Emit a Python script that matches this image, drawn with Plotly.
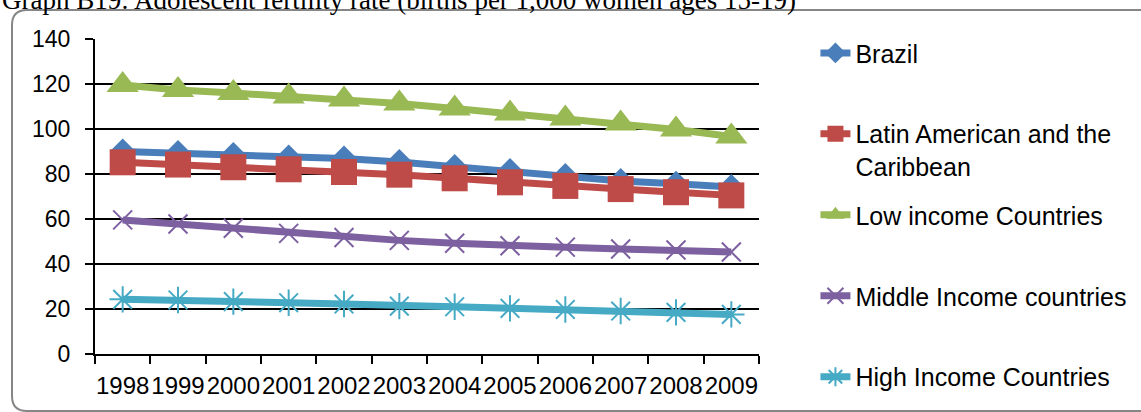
import plotly.graph_objects as go

# Adolescent fertility rate (births per 1,000 women ages 15-19)
years = ["1998", "1999", "2000", "2001", "2002", "2003",
         "2004", "2005", "2006", "2007", "2008", "2009"]

brazil = [90.0, 89.3, 88.4, 87.3, 86.9, 85.3, 83.1, 81.3, 79.1, 76.9, 75.7, 74.2]
latin_america = [85.2, 84.2, 83.0, 82.1, 80.9, 79.7, 78.1, 76.3, 74.7, 73.3, 71.9, 70.5]
low_income = [119.6, 117.3, 116.0, 114.4, 113.1, 111.3, 109.1, 106.9, 104.7, 102.4, 99.8, 96.7]
middle_income = [59.6, 57.8, 55.9, 53.6, 51.8, 50.5, 49.2, 48.1, 47.5, 46.7, 46.2, 45.3]
high_income = [24.3, 24.0, 23.3, 22.8, 22.2, 21.3, 21.0, 20.3, 19.8, 19.1, 18.5, 17.6]

y_ticks = [0, 20, 40, 60, 80, 100, 120, 140]

FONT = "Liberation Sans"

series = [
    ("Brazil", brazil, "#4A7EBB", dict(symbol="diamond", size=20)),
    ("Latin American and the<br>Caribbean", latin_america, "#BE4B48",
     dict(symbol="square", size=26)),
    ("Low income Countries", low_income, "#98B954",
     dict(symbol="triangle-up", size=28)),
    ("Middle Income countries", middle_income, "#7D60A0",
     dict(symbol="x-thin", size=19, line=dict(width=2, color="#7D60A0"))),
    ("High Income Countries", high_income, "#46AAC5",
     dict(symbol="asterisk", size=22, line=dict(width=2, color="#46AAC5"))),
]

# vertical centre (paper units) of each legend entry
legend_y = [0.955, 0.648, 0.441, 0.184, -0.073]

fig = go.Figure()
for i, (name, vals, color, marker) in enumerate(series):
    legend_id = "legend" if i == 0 else f"legend{i + 1}"
    fig.add_trace(go.Scatter(
        x=years, y=vals, name=name, mode="lines+markers",
        line=dict(color=color, width=7),
        marker=dict(color=color, **marker),
        legend=legend_id,
    ))
    fig.layout[legend_id] = dict(
        x=1.085, y=legend_y[i], xanchor="left", yanchor="middle",
        bgcolor="rgba(0,0,0,0)", valign="top",
        font=dict(family=FONT, size=25, color="#000000"),
    )

# rounded frame around the chart, in paper units (plot area is 664 x 315 px);
# its right-hand side runs past the page edge
PW, PH = 664.0, 315.0
fl, fr, ft, fb = -83 / PW, 1100 / PW, 344 / PH, -57 / PH
rx, ry = 15 / PW, 15 / PH
frame = (f"M {fl + rx},{ft} L {fr - rx},{ft} Q {fr},{ft} {fr},{ft - ry} "
         f"L {fr},{fb + ry} Q {fr},{fb} {fr - rx},{fb} L {fl + rx},{fb} "
         f"Q {fl},{fb} {fl},{fb + ry} L {fl},{ft - ry} Q {fl},{ft} {fl + rx},{ft} Z")
fig.add_shape(type="path", path=frame, xref="paper", yref="paper",
              line=dict(color="#868686", width=2), layer="below")

fig.add_annotation(
    text="Graph B19: Adolescent fertility rate (births per 1,000 women ages 15-19)",
    xref="paper", yref="paper", x=-0.143, y=1.07,
    xanchor="left", yanchor="bottom", showarrow=False,
    font=dict(family="Liberation Serif", size=27, color="#000000"),
)

fig.update_layout(
    width=1141, height=412,
    margin=dict(l=95, r=382, t=39, b=58, autoexpand=False),
    paper_bgcolor="white", plot_bgcolor="white",
    showlegend=True,
    font=dict(family=FONT, size=23, color="#000000"),
)
fig.update_xaxes(
    type="category", tickson="boundaries", ticks="outside", ticklen=8,
    tickwidth=2, tickcolor="#000000", showgrid=False, tickangle=0,
    showline=True, linecolor="#000000", linewidth=2, automargin=False,
    tickfont=dict(family=FONT, size=24), range=[-0.5, 11.5],
    ticklabelstandoff=9,
)
fig.update_yaxes(
    range=[0, 140], tickvals=y_ticks, ticks="outside", ticklen=8,
    tickwidth=2, tickcolor="#000000", automargin=False,
    showgrid=True, gridcolor="#000000", gridwidth=2,
    showline=True, linecolor="#000000", linewidth=2,
    zeroline=False, tickfont=dict(family=FONT, size=23),
    ticklabelstandoff=10,
)

fig.write_html("out.html")
